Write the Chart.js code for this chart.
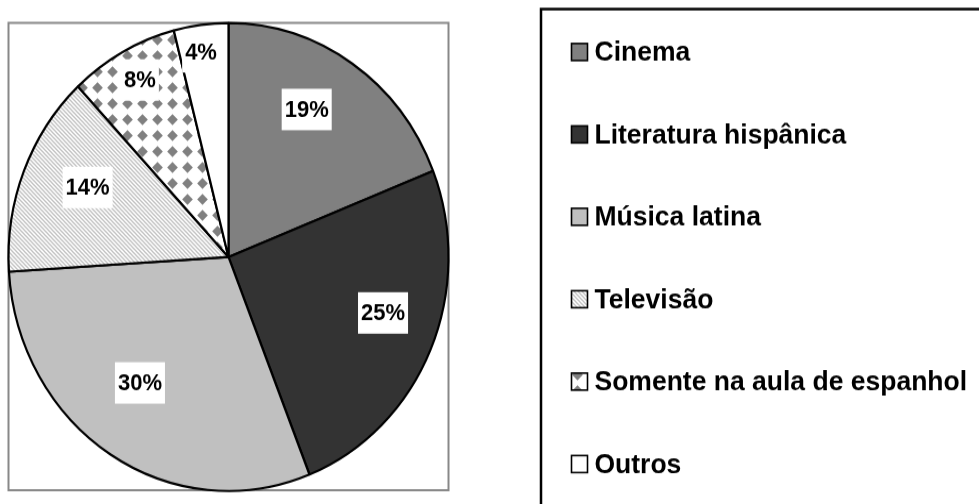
<!DOCTYPE html>
<html><head><meta charset="utf-8">
<script src="https://cdn.jsdelivr.net/npm/chart.js@4/dist/chart.umd.min.js"></script>
<style>html,body{margin:0;padding:0;background:#fff;overflow:hidden}canvas{display:block}</style>
</head><body>
<canvas id="c" width="979" height="474" style="width:979px;height:504px"></canvas>
<script>
// ---- data ----
const categories = ['Cinema', 'Literatura hispânica', 'Música latina', 'Televisão', 'Somente na aula de espanhol', 'Outros'];
const values = [19, 25, 30, 14, 8, 4];
const valueLabels = ['19%', '25%', '30%', '14%', '8%', '4%'];

// ---- label placement (layout config) ----
const labelRadiusFrac = [0.724, 0.742, 0.672, 0.706, 0.857, 0.886];
const labelAngleShiftDeg = [-4.8, -4.6, 4.4, 3.3, 0.8, -0.9];

const FONT = '"Liberation Sans", Arial, Helvetica, sans-serif';

function makeTile(w, h, draw) {
  const c = document.createElement('canvas');
  c.width = w; c.height = h;
  const g = c.getContext('2d');
  g.fillStyle = '#ffffff'; g.fillRect(0, 0, w, h);
  draw(g, w, h);
  return c;
}
const baseCtx = document.getElementById('c').getContext('2d');
const stripeTile = makeTile(4, 4, (g) => {
  g.strokeStyle = '#c2c2c2'; g.lineWidth = 1.3;
  for (let k = -1; k <= 1; k++) {
    g.beginPath(); g.moveTo(k * 4 - 1, -1); g.lineTo(k * 4 + 5, 5); g.stroke();
  }
});
const diamondTile = makeTile(15, 15, (g) => {
  g.fillStyle = '#808080';
  g.beginPath();
  g.moveTo(7.5, 2.2); g.lineTo(12.8, 7.5); g.lineTo(7.5, 12.8); g.lineTo(2.2, 7.5); g.closePath(); g.fill();
});
const fills = [
  '#808080',
  '#333333',
  '#c0c0c0',
  baseCtx.createPattern(stripeTile, 'repeat'),
  baseCtx.createPattern(diamondTile, 'repeat'),
  '#ffffff'
];

const decor = {
  id: 'decor',
  beforeDatasetsDraw(chart) {
    const ctx = chart.ctx;
    ctx.save();
    ctx.strokeStyle = '#888888'; ctx.lineWidth = 2;
    ctx.strokeRect(8.5, 21.5, 440, 439.5);
    ctx.restore();
  },
  afterDatasetsDraw(chart) {
    const ctx = chart.ctx;
    const meta = chart.getDatasetMeta(0);
    ctx.save();
    ctx.font = 'bold 22px ' + FONT;
    ctx.textAlign = 'center';
    ctx.textBaseline = 'middle';
    meta.data.forEach((arc, i) => {
      const p = arc.getProps(['x', 'y', 'startAngle', 'endAngle', 'outerRadius'], true);
      const mid = (p.startAngle + p.endAngle) / 2 + labelAngleShiftDeg[i] * Math.PI / 180;
      const r = p.outerRadius * labelRadiusFrac[i];
      const x = p.x + Math.cos(mid) * r;
      const y = p.y + Math.sin(mid) * r;
      const txt = valueLabels[i];
      const w = ctx.measureText(txt).width + 6;
      const h = 39;
      ctx.fillStyle = '#ffffff';
      ctx.fillRect(x - w / 2, y - h / 2, w, h);
      ctx.fillStyle = '#000000';
      ctx.fillText(txt, x, y + 1);
    });
    ctx.restore();
  },
  afterDraw(chart) {
    const ctx = chart.ctx;
    ctx.save();
    // legend frame
    ctx.strokeStyle = '#000000'; ctx.lineWidth = 2.5;
    ctx.strokeRect(541, 8.5, 520, 520);
    // legend items
    const ds = chart.data.datasets[0];
    ctx.font = 'bold 26.5px ' + FONT;
    ctx.textAlign = 'left';
    ctx.textBaseline = 'middle';
    chart.data.labels.forEach((lab, i) => {
      const cy = 48.9 + i * 77.5;
      ctx.fillStyle = ds.backgroundColor[i];
      ctx.fillRect(571.5, cy - 8, 16, 16);
      ctx.strokeStyle = '#000000'; ctx.lineWidth = 1.6;
      ctx.strokeRect(571.5, cy - 8, 16, 16);
      ctx.fillStyle = '#000000';
      ctx.fillText(lab, 594.5, cy + 1);
    });
    ctx.restore();
  }
};

new Chart(document.getElementById('c'), {
  type: 'pie',
  data: {
    labels: categories,
    datasets: [{
      data: values,
      backgroundColor: fills,
      borderColor: '#000000',
      borderWidth: 2.2,
      hoverOffset: 0
    }]
  },
  options: {
    responsive: false,
    devicePixelRatio: 1,
    animation: false,
    radius: 220,
    layout: { padding: { left: 8, right: 530, top: 21.7, bottom: 12.3 } },
    plugins: {
      legend: { display: false },
      tooltip: { enabled: false }
    },
    events: []
  },
  plugins: [decor]
});
</script>
</body></html>
